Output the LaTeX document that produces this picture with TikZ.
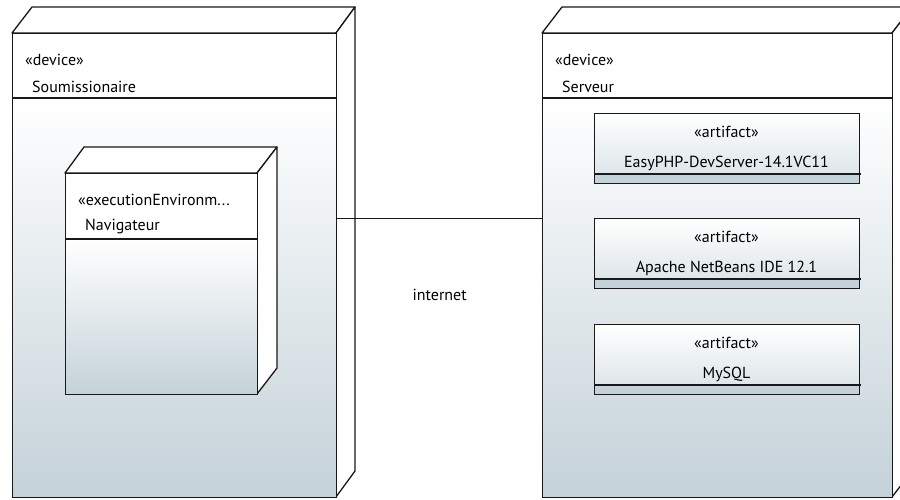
\documentclass[tikz,border=0pt]{standalone}
\usepackage{fontspec}
\setmainfont{PT Sans}
\definecolor{edge}{RGB}{25,25,25}
\definecolor{gbot}{RGB}{196,210,217}
\definecolor{gmid}{RGB}{222,230,234}
\tikzset{
  face/.style={draw=edge, line width=1.3pt, inner sep=0pt, anchor=north west},
  side/.style={draw=edge, fill=white, line width=1.3pt, line join=round},
  lbl/.style={inner sep=0pt, font=\fontsize{16}{18}\selectfont, text=black},
  conn/.style={draw=edge, line width=1.3pt},
  divider/.style={draw=edge, line width=1.3pt}
}
\begin{document}
\begin{tikzpicture}[x=1pt,y=-1pt]
\useasboundingbox (0,0) rectangle (900,499);
\clip (0,0) rectangle (900,499);
\fill[white] (0,0) rectangle (900,499);

% ---------- Left device: Soumissionaire ----------
\path[side] (12,33) -- (32,7) -- (355,7) -- (336,33) -- cycle;
\path[side] (336,33) -- (355,7) -- (355,471) -- (336,497) -- cycle;
\fill[white] (12,33) rectangle (336,98);
\shade[top color=white, bottom color=gbot] (12,98) rectangle (336,497);
\node[face, minimum width=324pt, minimum height=464pt] (sou) at (12,33) {};
\draw[divider] (12,98) -- (336,98);
\node[lbl, anchor=west] (soust) at (25,60) {«device»};
\node[lbl, anchor=west] (souname) at (32,87) {Soumissionaire};

% Navigateur execution environment
\path[side] (65,173) -- (84,147) -- (277,147) -- (257,173) -- cycle;
\path[side] (257,173) -- (277,147) -- (277,368) -- (257,394) -- cycle;
\fill[white] (65,173) rectangle (257,239);
\shade[top color=white, bottom color=gbot] (65,239) rectangle (257,394);
\node[face, minimum width=192pt, minimum height=221pt] (nav) at (65,173) {};
\draw[divider] (65,239) -- (257,239);
\node[lbl, anchor=west] (navst) at (78,200) {«executionEnvironm...};
\node[lbl, anchor=west] (navname) at (85,227) {Navigateur};

% ---------- Right device: Serveur ----------
\path[side] (542,33) -- (562,7) -- (912,7) -- (892,33) -- cycle;
\path[side] (892,33) -- (912,7) -- (912,471) -- (892,497) -- cycle;
\fill[white] (542,33) rectangle (892,98);
\shade[top color=white, bottom color=gbot] (542,98) rectangle (892,497);
\node[face, minimum width=350pt, minimum height=464pt] (srv) at (542,33) {};
\draw[divider] (542,98) -- (892,98);
\node[lbl, anchor=west] (srvst) at (555,60) {«device»};
\node[lbl, anchor=west] (srvname) at (562,87) {Serveur};

% Artifacts
\foreach \top/\nm/\txt in {113/a1/EasyPHP-DevServer-14.1VC11, 218/a2/Apache NetBeans IDE 12.1, 324/a3/MySQL}{
  \shade[top color=white, bottom color=gmid] (594,\top) rectangle (859,\top+61);
  \fill[gbot] (594,\top+61) rectangle (859,\top+70);
  \node[face, minimum width=265pt, minimum height=70pt] (\nm) at (594,\top) {};
  \draw[divider] (594,\top+61) -- (861,\top+61);
  \node[lbl] at (726.5,\top+19) {«artifact»};
  \node[lbl] at (726.5,\top+50) {\txt};
}

% ---------- Connector ----------
\draw[conn] ([yshift=47pt]sou.east) -- ([yshift=47pt]srv.west)
  node[lbl, pos=0.5, yshift=-76pt] (inet) {internet};
\end{tikzpicture}
\end{document}
